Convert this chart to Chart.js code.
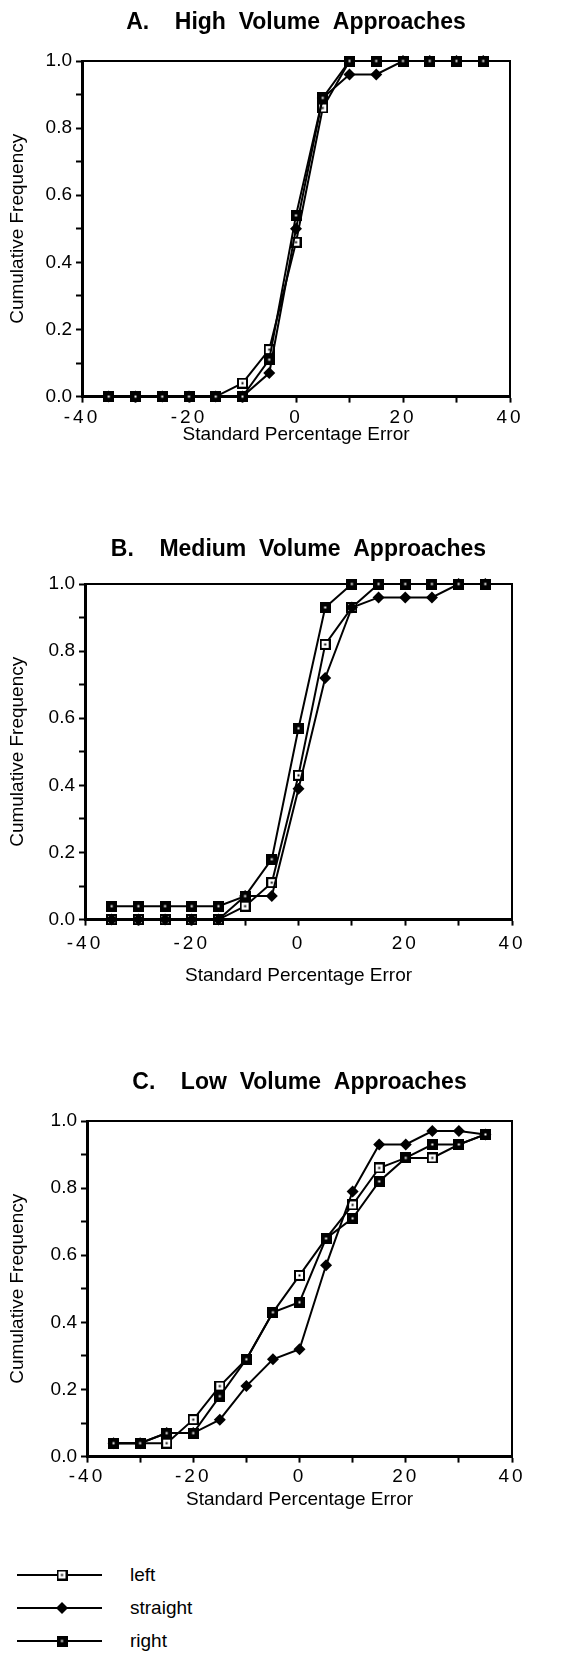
<!DOCTYPE html>
<html><head><meta charset="utf-8">
<script src="https://cdn.jsdelivr.net/npm/chart.js@4.4.1/dist/chart.umd.min.js"></script>
<style>
html,body{margin:0;padding:0;background:#fff;}
body{width:575px;height:1653px;position:relative;overflow:hidden;font-family:"Liberation Sans",Arial,sans-serif;color:#000;}
.wrap{position:absolute;left:0;width:575px;}
.row{position:absolute;left:0;height:30px;width:320px;}
.row canvas{position:absolute;left:0;top:0;}
.row span{position:absolute;left:130px;top:0;font-size:19px;line-height:30px;}
</style></head><body>
<div class="wrap" id="wA"><canvas id="cA"></canvas></div>
<div class="wrap" id="wB"><canvas id="cB"></canvas></div>
<div class="wrap" id="wC"><canvas id="cC"></canvas></div>
<div class="row" style="top:1560px"><canvas id="lg0" width="110" height="30"></canvas><span>left</span></div>
<div class="row" style="top:1593px"><canvas id="lg1" width="110" height="30"></canvas><span>straight</span></div>
<div class="row" style="top:1626px"><canvas id="lg2" width="110" height="30"></canvas><span>right</span></div>
<script>
// ---- data ----
const errorPct = [-35,-30,-25,-20,-15,-10,-5,0,5,10,15,20,25,30,35];
const xTickLabels = [-40,-20,0,20,40];
const yTickLabels = [0.0,0.2,0.4,0.6,0.8,1.0];
const seriesNames = ['left','straight','right'];

const highLeft     = [0,0,0,0,0,0.04,0.14,0.46,0.86,1,1,1,1,1,1];
const highStraight = [0,0,0,0,0,0,0.07,0.50,0.89,0.96,0.96,1,1,1,1];
const highRight    = [0,0,0,0,0,0,0.11,0.54,0.89,1,1,1,1,1,1];

const medLeft      = [0,0,0,0,0,0.04,0.11,0.43,0.82,0.93,1,1,1,1,1];
const medStraight  = [0,0,0,0,0,0.07,0.07,0.39,0.72,0.93,0.96,0.96,0.96,1,1];
const medRight     = [0.04,0.04,0.04,0.04,0.04,0.07,0.18,0.57,0.93,1,1,1,1,1,1];

const lowLeft      = [0.04,0.04,0.04,0.11,0.21,0.29,0.43,0.54,0.65,0.75,0.86,0.89,0.89,0.93,0.96];
const lowStraight  = [0.04,0.04,0.07,0.07,0.11,0.21,0.29,0.32,0.57,0.79,0.93,0.93,0.97,0.97,0.96];
const lowRight     = [0.04,0.04,0.07,0.07,0.18,0.29,0.43,0.46,0.65,0.71,0.82,0.89,0.93,0.93,0.96];

const titles = ['A.    High  Volume  Approaches','B.    Medium  Volume  Approaches','C.    Low  Volume  Approaches'];

// ---- markers ----
function makeSquare(open){
  const c = document.createElement('canvas'); c.width = 11; c.height = 11;
  const g = c.getContext('2d');
  if(open){
    g.fillStyle='#fff'; g.fillRect(0,0,11,11);
    g.strokeStyle='#000'; g.lineWidth=2; g.strokeRect(1,1,9,9);
    g.fillStyle='#000'; g.fillRect(4.5,4.5,2,2);
  } else {
    g.fillStyle='#000'; g.fillRect(0,0,11,11);
    g.fillStyle='#fff'; g.fillRect(4.5,4.5,2,2);
  }
  return c;
}
const mkLeft = makeSquare(true), mkRight = makeSquare(false);
const FONT = '"Liberation Sans", Arial, Helvetica, sans-serif';

const framePlugin = {
  id:'frame',
  beforeDatasetsDraw(chart){
    const {ctx, chartArea:a} = chart;
    ctx.save(); ctx.strokeStyle='#000'; ctx.lineWidth=2;
    ctx.beginPath(); ctx.moveTo(a.left, a.top); ctx.lineTo(a.right, a.top); ctx.lineTo(a.right, a.bottom); ctx.stroke();
    ctx.restore();
  },
  beforeDraw(chart){
    const s = chart.scales.x;
    if(s && !s._sp){
      const orig = s.drawLabels.bind(s);
      s.drawLabels = function(area){ const ctx=this.ctx; ctx.save(); ctx.letterSpacing='3px'; orig(area); ctx.restore(); };
      s._sp = true;
    }
  }
};

function ds(label, vals, kind){
  const base = {label, data: errorPct.map((x,i)=>({x, y: vals[i]})), borderColor:'#000', borderWidth:2,
    tension:0, clip:false, pointBorderWidth:0, pointBackgroundColor:'#000'};
  if(kind==='left'){ base.pointStyle = mkLeft; base.order = 2; }
  else if(kind==='right'){ base.pointStyle = mkRight; base.order = 0; }
  else { base.pointStyle='rectRot'; base.pointRadius=6; base.order = 1; }
  return base;
}

function makeChart(id, wrapId, p, title, L, S, R){
  const titleLH = 23*1.2, axLH = 19*1.2;
  const xH = p.titleGap + axLH/2;
  const h = p.plotBottom + xH + 2;
  const wrap = document.getElementById(wrapId);
  wrap.style.top = p.top + 'px'; wrap.style.height = h + 'px';
  const cv = document.getElementById(id); cv.width = 575; cv.height = Math.ceil(h);
  cv.style.width='575px'; cv.style.height=Math.ceil(h)+'px';
  new Chart(cv, {
    type:'line',
    data:{datasets:[ds(seriesNames[0],L,'left'), ds(seriesNames[1],S,'straight'), ds(seriesNames[2],R,'right')]},
    options:{
      responsive:false, animation:false, devicePixelRatio:1,
      layout:{padding:{top:0,left:0,right:575-p.plotRight,bottom:2}},
      plugins:{
        legend:{display:false}, tooltip:{enabled:false},
        title:{display:true, text:title, fullSize:false, color:'#000',
          font:{family:FONT, size:23, weight:'bold', lineHeight:1.2},
          padding:{top:p.titleC - titleLH/2, bottom:p.plotTop - p.titleC - titleLH/2}}
      },
      scales:{
        x:{type:'linear', min:-40, max:40,
          afterFit(s){ s.height = xH; },
          border:{display:true, color:'#000', width:3},
          grid:{drawOnChartArea:false, drawTicks:true, tickLength:6, tickColor:'#000', tickWidth:2},
          ticks:{stepSize:10, padding:p.tickGap - 6 - axLH/2, color:'#000', font:{family:FONT, size:19, lineHeight:1.2},
            maxRotation:0, autoSkip:false,
            callback(v){ return xTickLabels.includes(v) ? String(v) : ''; }},
          title:{display:true, text:'Standard Percentage Error', color:'#000', padding:{top:0,bottom:0},
            font:{family:FONT, size:19, lineHeight:1.2}}
        },
        y:{type:'linear', min:0, max:1,
          afterFit(s){ s.width = p.plotLeft; },
          border:{display:true, color:'#000', width:3},
          grid:{drawOnChartArea:false, drawTicks:true, tickLength:6, tickColor:'#000', tickWidth:2},
          ticks:{stepSize:0.1, padding:4, color:'#000', font:{family:FONT, size:19, lineHeight:1.2}, autoSkip:false,
            callback(v){ const r = Math.round(v*10)/10; return yTickLabels.some(t=>Math.abs(t-r)<1e-9) ? r.toFixed(1) : ''; }},
          title:{display:true, text:'Cumulative Frequency', color:'#000', padding:{top:18 - axLH/2, bottom:0},
            font:{family:FONT, size:19, lineHeight:1.2}}
        }
      }
    },
    plugins:[framePlugin]
  });
}

makeChart('cA','wA',{top:0, titleC:23, plotTop:61, plotBottom:396, plotLeft:82, plotRight:510, tickGap:21, titleGap:38}, titles[0], highLeft, highStraight, highRight);
makeChart('cB','wB',{top:500, titleC:50, plotTop:84, plotBottom:419, plotLeft:85, plotRight:512, tickGap:24, titleGap:56}, titles[1], medLeft, medStraight, medRight);
makeChart('cC','wC',{top:1050, titleC:33, plotTop:71, plotBottom:406, plotLeft:87, plotRight:512, tickGap:20, titleGap:43}, titles[2], lowLeft, lowStraight, lowRight);

// ---- legend samples ----
[mkLeft, null, mkRight].forEach((mk,i)=>{
  const g = document.getElementById('lg'+i).getContext('2d');
  g.strokeStyle='#000'; g.lineWidth=2; g.beginPath(); g.moveTo(17,15); g.lineTo(102,15); g.stroke();
  if(mk){ g.drawImage(mk, 62-5.5, 15-5.5); }
  else { g.fillStyle='#000'; g.beginPath(); g.moveTo(62,9); g.lineTo(68,15); g.lineTo(62,21); g.lineTo(56,15); g.closePath(); g.fill(); }
});
</script>
</body></html>
